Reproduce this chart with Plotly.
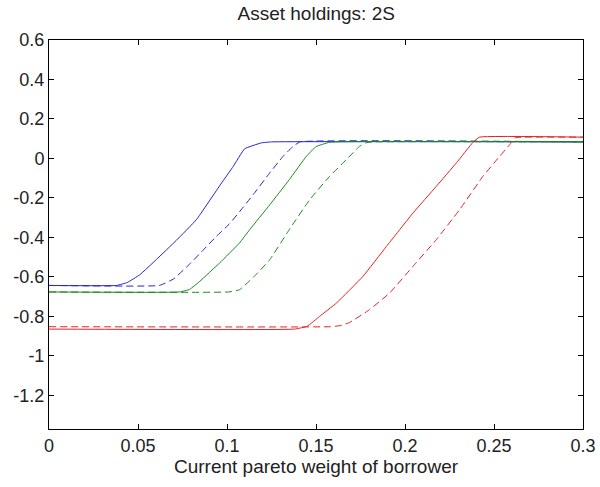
import plotly.graph_objects as go

# Data
blue_solid_x = [0, 0.038, 0.044, 0.051, 0.0603, 0.0715, 0.0828, 0.0965, 0.1035, 0.1099, 0.1193, 0.125, 0.3]
blue_solid_y = [-0.643, -0.643, -0.628, -0.589, -0.512, -0.415, -0.31, -0.13, -0.04, 0.049, 0.079, 0.084, 0.084]

blue_dash_x = [0, 0.062, 0.07, 0.079, 0.0865, 0.094, 0.1015, 0.107, 0.115, 0.124, 0.1315, 0.137, 0.141, 0.3]
blue_dash_y = [-0.643, -0.643, -0.61, -0.535, -0.465, -0.395, -0.33, -0.27, -0.18, -0.073, 0.011, 0.06, 0.084, 0.084]

green_solid_x = [0, 0.0734, 0.079, 0.0847, 0.0959, 0.107, 0.1128, 0.124, 0.135, 0.1446, 0.150, 0.1577, 0.3]
green_solid_y = [-0.676, -0.676, -0.663, -0.622, -0.529, -0.428, -0.36, -0.235, -0.107, 0.011, 0.060, 0.082, 0.084]

green_dash_x = [0, 0.101, 0.107, 0.115, 0.124, 0.135, 0.1465, 0.1577, 0.167, 0.1745, 0.178, 0.182, 0.3]
green_dash_y = [-0.676, -0.676, -0.665, -0.6, -0.513, -0.36, -0.208, -0.09, -0.006, 0.062, 0.079, 0.084, 0.084]

red_solid_x = [0, 0.138, 0.145, 0.152, 0.1615, 0.1764, 0.1896, 0.2045, 0.2176, 0.2289, 0.2382, 0.2418, 0.3]
red_solid_y = [-0.864, -0.864, -0.85, -0.80, -0.732, -0.597, -0.445, -0.276, -0.141, -0.022, 0.082, 0.108, 0.108]

red_dash_x = [0, 0.158, 0.164, 0.169, 0.180, 0.1914, 0.2045, 0.2176, 0.2307, 0.2438, 0.2532, 0.2588, 0.2616, 0.266, 0.3]
red_dash_y = [-0.852, -0.852, -0.846, -0.83, -0.766, -0.681, -0.546, -0.411, -0.259, -0.09, 0.011, 0.07, 0.104, 0.108, 0.108]

x_ticks = [0, 0.05, 0.1, 0.15, 0.2, 0.25, 0.3]
x_tick_labels = ["0", "0.05", "0.1", "0.15", "0.2", "0.25", "0.3"]
y_ticks = [-1.2, -1.0, -0.8, -0.6, -0.4, -0.2, 0, 0.2, 0.4, 0.6]
y_tick_labels = ["-1.2", "-1", "-0.8", "-0.6", "-0.4", "-0.2", "0", "0.2", "0.4", "0.6"]

BLUE = "#2424d0"
GREEN = "#1a8a1a"
RED = "#e82020"
DASH = "7px,4px"

series = [
    (blue_solid_x, blue_solid_y, BLUE, "solid"),
    (blue_dash_x, blue_dash_y, BLUE, DASH),
    (green_solid_x, green_solid_y, GREEN, "solid"),
    (green_dash_x, green_dash_y, GREEN, DASH),
    (red_solid_x, red_solid_y, RED, "solid"),
    (red_dash_x, red_dash_y, RED, DASH),
]

fig = go.Figure()
for xs, ys, c, d in series:
    fig.add_trace(go.Scatter(x=xs, y=ys, mode="lines",
                             line=dict(color=c, width=1, dash=d, shape="spline", smoothing=0.3),
                             showlegend=False, hoverinfo="skip"))

tick_font = dict(family="Liberation Sans, Arial, sans-serif", size=18, color="#222222")
label_font = dict(family="Liberation Sans, Arial, sans-serif", size=19, color="#222222")
axis_common = dict(showgrid=False, zeroline=False, showline=True, linecolor="black",
                   linewidth=1, mirror="ticks", ticks="inside", ticklen=5,
                   tickcolor="black", tickfont=tick_font, automargin=False)

fig.update_layout(
    width=600, height=487,
    margin=dict(l=49, r=17, t=40, b=58, autoexpand=False),
    paper_bgcolor="white", plot_bgcolor="white",
    title=dict(text="Asset holdings: 2S", x=0.527, xanchor="center", y=0.972, yanchor="middle", font=label_font),
    xaxis=dict(range=[0, 0.3], tickvals=x_ticks, ticktext=x_tick_labels,
               title=dict(text="Current pareto weight of borrower", font=label_font, standoff=2), **axis_common),
    yaxis=dict(range=[-1.37, 0.6], tickvals=y_ticks, ticktext=y_tick_labels, **axis_common),
)

fig.write_html("out.html")
